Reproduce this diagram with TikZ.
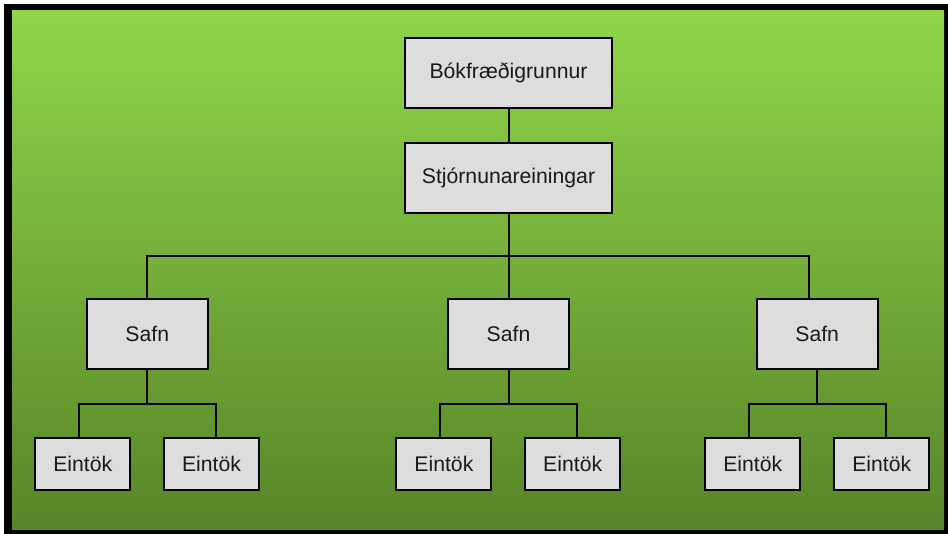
\documentclass[tikz,border=0pt]{standalone}
\usepackage{fontspec}
\setmainfont{Liberation Sans}
\usetikzlibrary{calc}
\definecolor{gtop}{RGB}{143,214,73}
\definecolor{gbot}{RGB}{88,133,40}
\definecolor{boxfill}{RGB}{221,221,221}
\definecolor{txt}{RGB}{26,26,26}
\tikzset{
  px/.style={x=0.75pt,y=-0.75pt},
  orgbox/.style={draw=black,line width=1.5pt,fill=boxfill,inner sep=0pt,
    text=txt,font=\fontsize{15.9}{19}\selectfont},
  bigbox/.style={orgbox,minimum width=155.25pt,minimum height=52.5pt},
  midbox/.style={orgbox,minimum width=90.75pt,minimum height=52.5pt},
  smallbox/.style={orgbox,minimum width=71.25pt,minimum height=39pt},
  link/.style={draw=black,line width=1.5pt}
}
\begin{document}
\begin{tikzpicture}[px]
\useasboundingbox[fill=white] (0,0) rectangle (948,534);
\fill[black] (4,4) rectangle (948,534);
\shade[top color=gtop,bottom color=gbot] (12,11) rectangle (944,529);

\node[bigbox] (b) at (508.5,73) {Bókfræðigrunnur};
\node[bigbox] (s) at (508.5,178) {Stjórnunareiningar};

\node[midbox] (safn1) at (147.3,334) {Safn};
\node[midbox] (safn2) at (508.5,334) {Safn};
\node[midbox] (safn3) at (817.2,334) {Safn};

\node[smallbox] (e11) at (82.8,464) {Eintök};
\node[smallbox] (e12) at (211.5,464) {Eintök};
\node[smallbox] (e21) at (443.9,464) {Eintök};
\node[smallbox] (e22) at (572.7,464) {Eintök};
\node[smallbox] (e31) at (752.7,464) {Eintök};
\node[smallbox] (e32) at (881.8,464) {Eintök};

\draw[link] (b.south) -- (s.north);
\coordinate (bar) at (508.5,256);
\coordinate (safn3drop) at ([xshift=-6.4pt]safn3.north);
\draw[link] (s.south) -- (safn2.north);
\draw[link] (safn1.north) |- (bar) -| (safn3drop);

\foreach \i in {1,2,3}{
  \coordinate (j\i) at ($(safn\i.south)+(0,34)$);
  \draw[link] (safn\i.south) -- (j\i);
  \draw[link] ([xshift=-3pt]e\i1.north) |- (j\i) -| ([xshift=3.4pt]e\i2.north);
}
\end{tikzpicture}
\end{document}
